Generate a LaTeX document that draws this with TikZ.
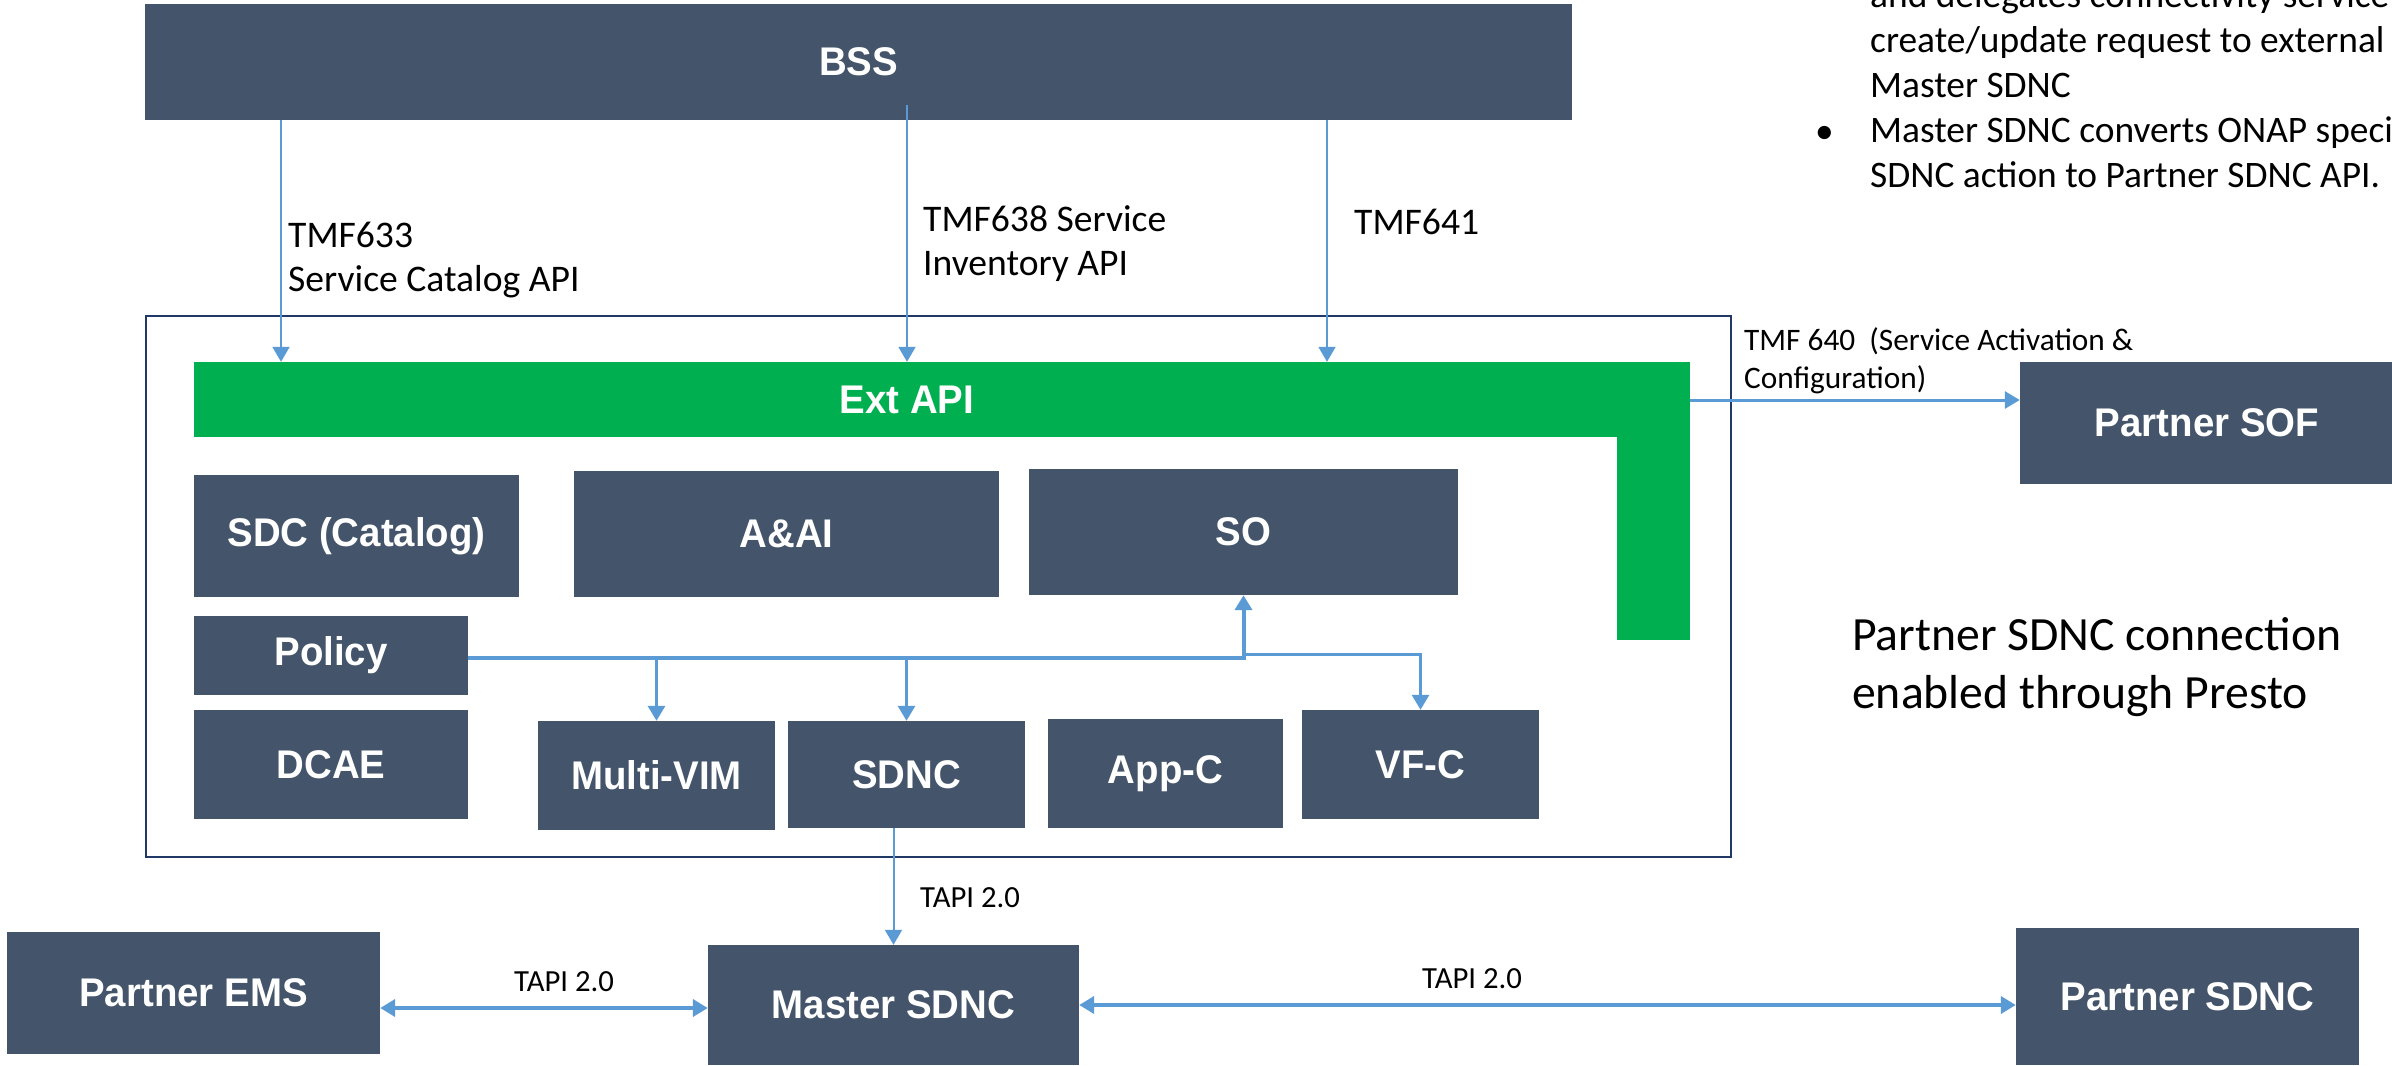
\documentclass[tikz,border=0pt]{standalone}
\usepackage{fontspec}
\setmainfont{Carlito}
\newfontfamily\boxfont{Liberation Sans}[FakeStretch=0.96]
\usetikzlibrary{arrows.meta}
\definecolor{boxgray}{HTML}{44546A}
\definecolor{apigreen}{HTML}{00B050}
\definecolor{linkblue}{HTML}{5B9BD5}
\definecolor{framenavy}{HTML}{1F3864}

\begin{document}
\begin{tikzpicture}[x=1pt,y=-1pt,
  block/.style={fill=boxgray,text=white,inner sep=0pt,
    font=\boxfont\bfseries\fontsize{40}{48}\selectfont},
  boxdim/.style 2 args={minimum width=#1pt,minimum height=#2pt},
  note/.style={inner sep=0pt,align=left,font=\fontsize{37.6}{44}\selectfont},
  small/.style={inner sep=0pt,align=left,font=\fontsize{31.3}{38}\selectfont},
  tapi/.style={inner sep=0pt,font=\fontsize{30.7}{37}\selectfont},
  big/.style={inner sep=0pt,align=left,font=\fontsize{47.7}{58}\selectfont},
  bul/.style={inner sep=0pt,align=left,font=\fontsize{37.4}{45}\selectfont},
  tip/.style={-{Triangle[width=17pt,length=15pt]}},
  link/.style={draw=linkblue,line width=2pt,tip},
  branch/.style={draw=linkblue,line width=3pt,tip},
  bus/.style={draw=linkblue,line width=4pt,tip},
  twoway/.style={draw=linkblue,line width=4pt,
    {Triangle[width=17pt,length=15pt]}-{Triangle[width=17pt,length=15pt]}}]
\useasboundingbox (0,0) rectangle (2392,1065);
\fill[white] (0,0) rectangle (2392,1065);

% ONAP frame and Ext API
\path (938.5,586.5) node[draw=framenavy,line width=2.5pt,boxdim={1585}{541}] (onap) {};
\path (907,399.5) node[block,fill=apigreen,boxdim={1426}{75}] (extapi) {Ext API};
\path (1653.5,501) node[fill=apigreen,inner sep=0pt,boxdim={73}{278}] (extleg) {};

% boxes
\path (858.5,62)    node[block,boxdim={1427}{116}] (bss)        {BSS};
\path (356.5,536)   node[block,boxdim={325}{122}]  (sdc)        {SDC (Catalog)};
\path (786.5,534)   node[block,boxdim={425}{126}]  (aai)        {A\&AI};
\path (1243.5,532)  node[block,boxdim={429}{126}]  (so)         {SO};
\path (331,655.5)   node[block,boxdim={274}{79}]   (policy)     {Policy};
\path (331,764.5)   node[block,boxdim={274}{109}]  (dcae)       {DCAE};
\path (656.5,775.5) node[block,boxdim={237}{109}]  (multivim)   {Multi-VIM};
\path (906.5,774.5) node[block,boxdim={237}{107}]  (sdnc)       {SDNC};
\path (1165.5,773.5) node[block,boxdim={235}{109}] (appc)       {App-C};
\path (1420.5,764.5) node[block,boxdim={237}{109}] (vfc)        {VF-C};
\path (893.5,1005)  node[block,boxdim={371}{120}]  (mastersdnc) {Master SDNC};
\path (193.5,993)   node[block,boxdim={373}{122}]  (partnerems) {Partner EMS};
\path (2187.5,996.5) node[block,boxdim={343}{137}] (partnersdnc) {Partner SDNC};
\path (2207,423)    node[block,boxdim={374}{122}]  (partnersof) {Partner SOF};

% BSS to Ext API
\coordinate (c633) at (281,0);
\coordinate (c638) at (907,105);
\coordinate (c641) at (1327,0);
\draw [link] (c633 |- bss.south) -- (c633 |- extapi.north);
\draw [link] (c638) -- (c638 |- extapi.north);
\draw [link] (c641 |- bss.south) -- (c641 |- extapi.north);

% Ext API to Partner SOF
\coordinate (c640) at (0,400);
\draw [branch] (extleg.east |- c640) -- (partnersof.west |- c640);

% Policy bus
\coordinate (busy) at (0,658);
\coordinate (vfy) at (0,654);
\draw [bus] (policy.east |- busy) -| (so.south);
\draw [branch] (multivim.north |- busy) -- (multivim.north);
\draw [branch] (sdnc.north |- busy) -- (sdnc.north);
\draw [branch] (so.south |- vfy) -| (vfc.north);

% TAPI links
\coordinate (emsy) at (0,1008);
\draw [link] (sdnc.south -| mastersdnc.north) -- (mastersdnc.north);
\draw [twoway] (partnerems.east |- emsy) -- (mastersdnc.west |- emsy);
\draw [twoway] (mastersdnc.east) -- (partnersdnc.west |- mastersdnc.east);

% labels
\path (288,222)  node[note,anchor=north west] (l633) {TMF633\\Service Catalog API};
\path (923,205)  node[note,anchor=north west] (l638) {TMF638 Service\\Inventory API};
\path (1354,209) node[note,anchor=north west] (l641) {TMF641};
\path (1744,327) node[small,anchor=north west] (l640) {TMF 640\ \ (Service Activation \&\\Configuration)};
\path (920,907)  node[tapi,anchor=base west] (tapisdnc) {TAPI 2.0};
\path (514,991)  node[tapi,anchor=base west] (tapiems)  {TAPI 2.0};
\path (1422,988) node[tapi,anchor=base west] (tapipartner) {TAPI 2.0};
\path (1852,617) node[big,anchor=north west] (presto) {Partner SDNC connection\\enabled through Presto};
\path (1870,-19) node[bul,anchor=north west] (notes) {and delegates connectivity service\\create/update request to external\\Master SDNC\\Master SDNC converts ONAP specific\\SDNC action to Partner SDNC API.};
\path (1815,143) node[bul,anchor=base west] (dot) {•};
\end{tikzpicture}
\end{document}
